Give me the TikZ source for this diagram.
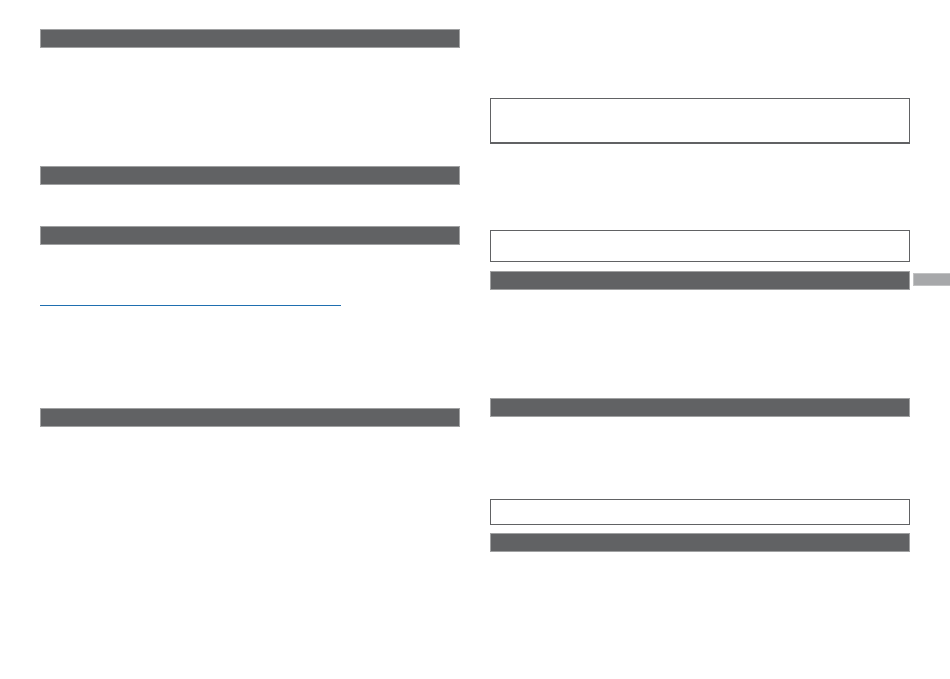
\documentclass[tikz,border=0pt]{standalone}
\usepackage{tikz}
\definecolor{bargray}{HTML}{616264}
\definecolor{tabgray}{HTML}{A7A8AA}
\definecolor{lineblue}{HTML}{1F6FB0}
\tikzset{
  headbar/.style={fill=bargray, draw=bargray!60!white, line width=0.6pt},
  framebox/.style={draw=bargray, line width=1.1pt, fill=white},
  tabbox/.style={fill=tabgray, draw=tabgray!70!white, line width=0.6pt},
  rule/.style={draw=lineblue, line width=1pt}
}
\begin{document}
\begin{tikzpicture}[x=1pt,y=-1pt]
\useasboundingbox[fill=white] (0,0) rectangle (950,679);
% left column bars
\path[headbar] (40.5,29) rectangle (459.5,47);
\path[headbar] (40.5,166) rectangle (459.5,184);
\path[headbar] (40.5,226) rectangle (459.5,244);
\path[rule] (40,305.5) -- (341,305.5);
\path[headbar] (40.5,408) rectangle (459.5,426);
% right column
\path[framebox] (490.5,98.5) rectangle (909.5,143);
\path[framebox] (490.5,230.5) rectangle (909.5,261.5);
\path[headbar] (490.5,271) rectangle (909.5,289);
\path[tabbox] (913,273) rectangle (950,285.5);
\path[headbar] (490.5,398.5) rectangle (909.5,416.5);
\path[framebox] (490.5,499.5) rectangle (909.5,524.5);
\path[headbar] (490.5,533) rectangle (909.5,551);
\end{tikzpicture}
\end{document}
